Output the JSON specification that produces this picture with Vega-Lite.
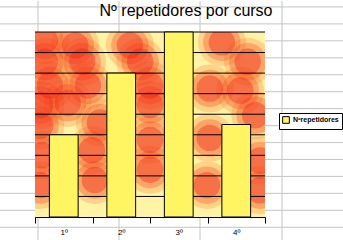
{
  "$schema": "https://vega.github.io/schema/vega-lite/v6.json",
  "autosize": {"type": "none"},
  "width": 230,
  "height": 185,
  "padding": {"left": 35, "top": 32, "right": 78, "bottom": 23},
  "background": "white",
  "config": {
    "view": {"stroke": null},
    "font": "Liberation Sans"
  },
  "title": {
    "text": "Nº repetidores por curso",
    "font": "Liberation Sans",
    "fontSize": 16,
    "fontWeight": "normal",
    "color": "black",
    "anchor": "middle",
    "frame": "group",
    "baseline": "alphabetic",
    "offset": 0,
    "dy": 31,
    "dx": 36
  },
  "datasets": {
    "bars": [
      {"curso": "1º", "repetidores": 8, "serie": "Nºrepetidores"},
      {"curso": "2º", "repetidores": 14, "serie": "Nºrepetidores"},
      {"curso": "3º", "repetidores": 18, "serie": "Nºrepetidores"},
      {"curso": "4º", "repetidores": 9, "serie": "Nºrepetidores"}
    ],
    "sheetRows": [
      {"sy": 20.44}, {"sy": 18.79}, {"sy": 17.14}, {"sy": 15.49}, {"sy": 13.84},
      {"sy": 12.19}, {"sy": 10.54}, {"sy": 8.89}, {"sy": 7.24}, {"sy": 5.6},
      {"sy": 3.95}, {"sy": 2.3}, {"sy": 0.65}, {"sy": -1.0}
    ],
    "sheetCols": [
      {"sx": 0.052}, {"sx": 1.461}, {"sx": 2.87}, {"sx": 4.296}
    ],
    "gridLines": [
      {"g": 2}, {"g": 4}, {"g": 6}, {"g": 8}, {"g": 10}, {"g": 12}, {"g": 14}, {"g": 16}, {"g": 18}
    ],
    "blobs": [
      {"bx": 0.17, "by": 17.2}, {"bx": 0.7, "by": 16.7}, {"bx": 0.17, "by": 15.1},
      {"bx": 0.82, "by": 15.1}, {"bx": 0.26, "by": 12.8}, {"bx": 0.92, "by": 12.8},
      {"bx": 0.57, "by": 11.1}, {"bx": 0.09, "by": 10.9}, {"bx": 1.65, "by": 16.7},
      {"bx": 1.83, "by": 15.1}, {"bx": 2.0, "by": 12.8}, {"bx": 2.0, "by": 10.9},
      {"bx": 3.25, "by": 17.0}, {"bx": 3.7, "by": 15.1}, {"bx": 3.04, "by": 12.5},
      {"bx": 3.57, "by": 12.3}, {"bx": 3.83, "by": 9.9}, {"bx": 0.09, "by": 8.9},
      {"bx": 0.12, "by": 6.0}, {"bx": 0.09, "by": 3.1}, {"bx": 0.99, "by": 6.5},
      {"bx": 1.04, "by": 3.6}, {"bx": 1.13, "by": 9.2}, {"bx": 2.0, "by": 7.5},
      {"bx": 2.0, "by": 4.6}, {"bx": 3.04, "by": 7.7}, {"bx": 2.99, "by": 3.1},
      {"bx": 3.91, "by": 5.5}, {"bx": 3.91, "by": 2.6}
    ]
  },
  "layer": [
    {
      "layer": [
        {
          "data": {"name": "sheetRows"},
          "mark": {"type": "rule", "color": "#C4C4C4", "strokeWidth": 1},
          "encoding": {
            "y": {"field": "sy", "type": "quantitative", "scale": {"domain": [0, 18], "nice": false, "zero": false}, "axis": null},
            "x": {"datum": -0.7, "type": "quantitative", "scale": {"domain": [0, 4], "nice": false, "zero": false}, "axis": null},
            "x2": {"datum": 5.5}
          }
        },
        {
          "data": {"name": "sheetCols"},
          "mark": {"type": "rule", "color": "#C4C4C4", "strokeWidth": 1},
          "encoding": {
            "x": {"field": "sx", "type": "quantitative", "axis": null},
            "y": {"datum": 21.0, "type": "quantitative", "axis": null},
            "y2": {"datum": -2.4}
          }
        },
        {
          "data": {"values": [{}]},
          "mark": {"type": "rect", "color": "#FFF4A6"},
          "encoding": {
            "x": {"datum": 0, "type": "quantitative", "axis": null},
            "x2": {"datum": 4},
            "y": {"datum": 0, "type": "quantitative", "axis": null},
            "y2": {"datum": 18}
          }
        },
        {
          "data": {"name": "blobs"},
          "mark": {"type": "point", "shape": "circle", "filled": true, "color": "#FA702A", "opacity": 0.25, "size": 2300, "clip": true},
          "encoding": {
            "x": {"field": "bx", "type": "quantitative", "axis": null},
            "y": {"field": "by", "type": "quantitative", "axis": null}
          }
        },
        {
          "data": {"name": "blobs"},
          "mark": {"type": "point", "shape": "circle", "filled": true, "color": "#F6401C", "opacity": 0.3, "size": 1400, "clip": true},
          "encoding": {
            "x": {"field": "bx", "type": "quantitative", "axis": null},
            "y": {"field": "by", "type": "quantitative", "axis": null}
          }
        },
        {
          "data": {"name": "blobs"},
          "mark": {"type": "point", "shape": "circle", "filled": true, "color": "#F21A12", "opacity": 0.38, "size": 700, "clip": true},
          "encoding": {
            "x": {"field": "bx", "type": "quantitative", "axis": null},
            "y": {"field": "by", "type": "quantitative", "axis": null}
          }
        },
        {
          "data": {"name": "gridLines"},
          "mark": {"type": "rule", "color": "black", "strokeWidth": 1},
          "encoding": {
            "y": {"field": "g", "type": "quantitative", "axis": null}
          }
        }
      ]
    },
    {
      "data": {"name": "bars"},
      "mark": {"type": "bar", "stroke": "black", "strokeWidth": 1, "opacity": 1, "width": {"band": 0.5}},
      "encoding": {
        "x": {
          "field": "curso", "type": "nominal", "sort": null,
          "scale": {"paddingInner": 0, "paddingOuter": 0},
          "axis": {
            "title": null, "labelAngle": 0, "tickBand": "extent", "zindex": 1,
            "domainColor": "black", "tickColor": "black", "tickSize": 6,
            "labelFont": "Liberation Sans", "labelFontSize": 8, "labelColor": "black", "labelPadding": 5
          }
        },
        "y": {
          "field": "repetidores", "type": "quantitative",
          "scale": {"domain": [0, 18], "nice": false, "zero": false},
          "axis": {
            "title": null, "grid": false, "values": [0, 2, 4, 6, 8, 10, 12, 14, 16, 18], "zindex": 1,
            "domainColor": "black", "tickColor": "black", "tickSize": 6,
            "labelFont": "Liberation Sans", "labelFontSize": 8, "labelColor": "black", "labelPadding": 3
          }
        },
        "color": {
          "field": "serie", "type": "nominal",
          "scale": {"range": ["#FFF462"]},
          "legend": {
            "title": null, "orient": "none", "legendX": 244, "legendY": 81,
            "padding": 3, "strokeColor": "black", "fillColor": "white",
            "symbolType": "square", "symbolSize": 45, "symbolStrokeColor": "black", "symbolStrokeWidth": 1, "symbolOpacity": 1,
            "labelFont": "Liberation Sans", "labelFontSize": 7, "labelFontWeight": "bold", "labelColor": "black", "labelOffset": 3
          }
        }
      }
    }
  ],
  "resolve": {"scale": {"x": "independent"}}
}
